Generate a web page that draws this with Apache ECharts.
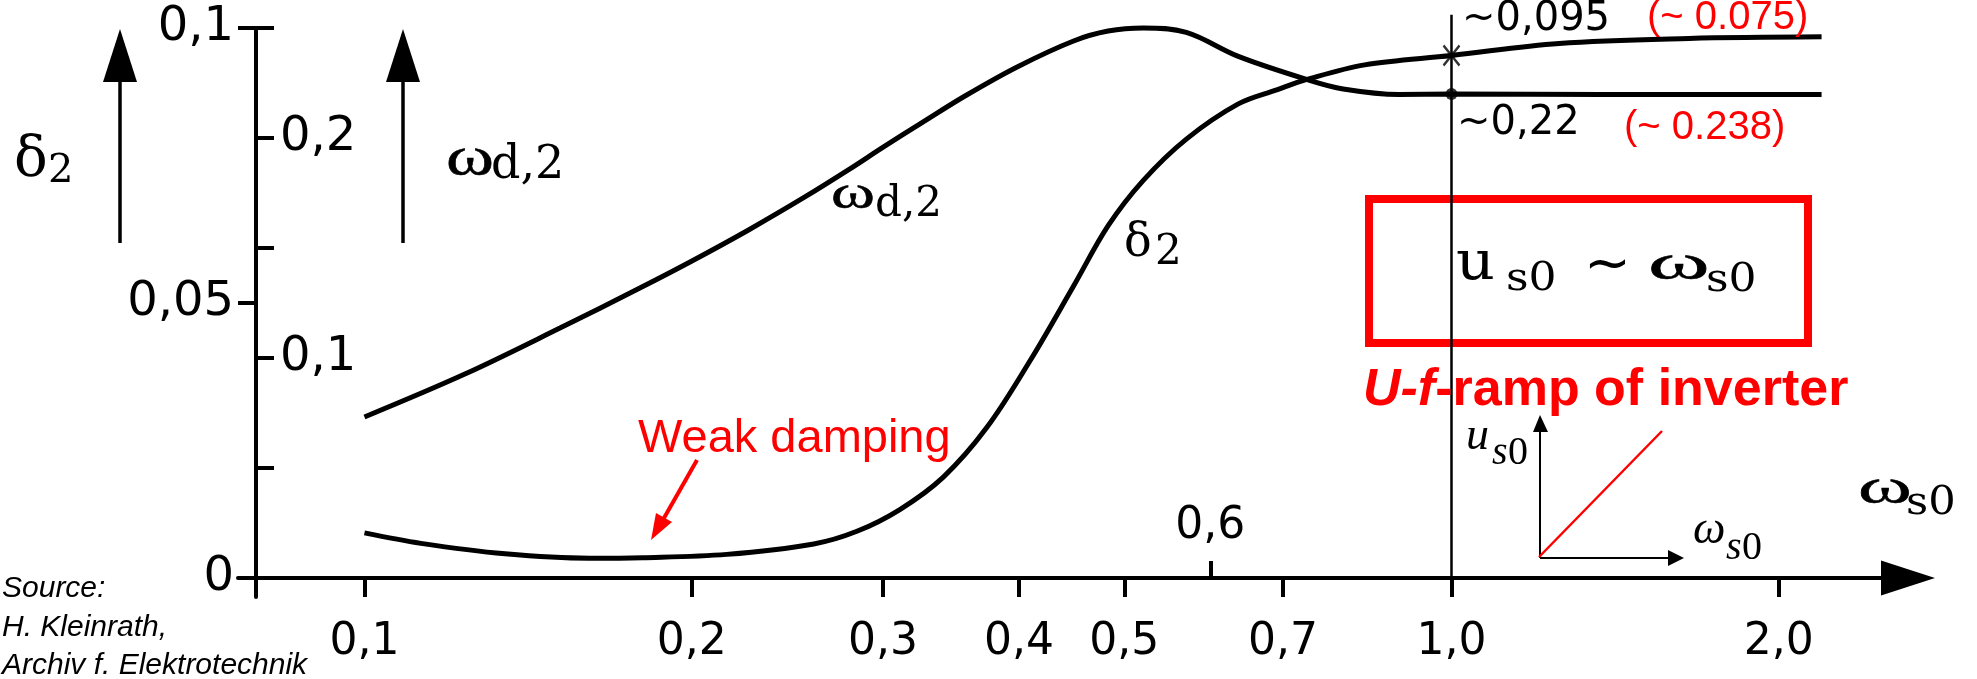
<!DOCTYPE html>
<html>
<head>
<meta charset="utf-8">
<script src="https://cdn.jsdelivr.net/npm/echarts@6/dist/echarts.min.js"></script>
<style>
  html, body { margin: 0; padding: 0; background: #ffffff; }
  #chart { width: 1977px; height: 679px; }
</style>
</head>
<body>
<div id="chart"></div>
<script>
// Damping δ2 of the second eigenvalue versus stator frequency ωs0 (p.u.)
const deltaOmega  = [0.100, 0.1127, 0.1347, 0.1609, 0.180, 0.2154, 0.259, 0.2838, 0.3111, 0.341, 0.3738, 0.4098, 0.4491, 0.4834, 0.5206, 0.5703, 0.6366, 0.6918, 0.735, 0.832, 1.0, 1.256, 1.653, 2.19];
const deltaValues = [0.0082, 0.0063, 0.0044, 0.0036, 0.0037, 0.0043, 0.0062, 0.0085, 0.0125, 0.0184, 0.0274, 0.0396, 0.0531, 0.0641, 0.0723, 0.0798, 0.0862, 0.0888, 0.0906, 0.0933, 0.095, 0.0972, 0.0981, 0.0984];

// Damped eigenfrequency ωd,2 versus stator frequency ωs0 (p.u.)
const wdOmega  = [0.100, 0.1237, 0.1513, 0.1792, 0.2001, 0.2256, 0.2542, 0.2787, 0.2998, 0.3258, 0.3568, 0.3985, 0.4491, 0.4832, 0.5206, 0.5702, 0.6366, 0.7384, 0.795, 0.895, 1.0, 1.376, 2.19];
const wdValues = [0.0732, 0.0927, 0.1136, 0.1318, 0.1441, 0.1582, 0.1732, 0.1855, 0.1957, 0.2070, 0.2191, 0.2323, 0.2441, 0.2486, 0.25, 0.248, 0.2371, 0.2264, 0.2223, 0.2198, 0.22, 0.2198, 0.2198];

// Rated operating point and the values read there
const refOmega   = 1.0;
const refDelta   = 0.095;
const refWd      = 0.22;
const altDelta   = 0.075;
const altWd      = 0.238;
const refLineTop = 0.1024;   // guide at ωs0 = 1 runs slightly above the plot

// Axis ticks
const xTicks      = [0.1, 0.2, 0.3, 0.4, 0.5, 0.7, 1.0, 2.0];
const xTicksAbove = [0.6];
const deltaTicks  = [0, 0.05, 0.1];
const wdTicks     = [0.05, 0.1, 0.15, 0.2, 0.25];
const wdLabels    = [0.1, 0.2];

// Axis extents
const xMin = 0.0765, xMax = 2.63;
const deltaMin = -0.00345, deltaMax = 0.1;
const wdMin = -0.008625, wdMax = 0.25;

const NUM_FONT = 'DejaVu Sans';
const MATH_FONT = 'DejaVu Serif';
const OMEGA_FONT = 'Liberation Serif';
const RED = '#ff0000';
const OMEGA_STYLE = { stroke: '#000', lineWidth: 0.5 };

const comma = v => String(v).replace('.', ',');
const pairs = (xs, ys) => xs.map((x, i) => [x, ys[i]]);

// Text placed by its baseline; sx stretches it horizontally from its left edge
function txt(str, x, baseline, size, family, extra, sx) {
  const style = Object.assign({
    text: str,
    fontSize: size,
    fontFamily: family,
    fill: '#000',
    align: 'left', textAlign: 'left',
    verticalAlign: 'middle', textVerticalAlign: 'middle'
  }, extra || {});
  return { type: 'text', x: x, y: baseline - 0.34 * size, scaleX: sx || 1, z: 10, style: style };
}
function seg(x1, y1, x2, y2, w, color) {
  return { type: 'line', z: 10, shape: { x1, y1, x2, y2 }, style: { stroke: color || '#000', lineWidth: w } };
}
function tri(points, color) {
  return { type: 'polygon', z: 10, shape: { points }, style: { fill: color || '#000' } };
}

const chart = echarts.init(document.getElementById('chart'), null, { renderer: 'canvas' });

const option = {
  backgroundColor: '#ffffff',
  animation: false,
  grid: { left: 238, right: 69, top: 28, bottom: 82, containLabel: false },
  xAxis: [
    {
      type: 'log', logBase: 10, min: xMin, max: xMax, position: 'bottom',
      axisLine: { show: true, onZero: true, onZeroAxisIndex: 0, symbol: ['none', 'triangle'], symbolSize: [35, 54], lineStyle: { color: '#000', width: 4 } },
      axisTick: { show: true, customValues: xTicks, length: 19, lineStyle: { color: '#000', width: 4 } },
      axisLabel: { show: true, customValues: xTicks, margin: 24, fontFamily: NUM_FONT, fontSize: 44, color: '#000',
                   formatter: v => Number(v).toFixed(1).replace('.', ',') },
      splitLine: { show: false }, minorTick: { show: false }
    },
    {
      type: 'log', logBase: 10, min: xMin, max: xMax, position: 'bottom',
      axisLine: { show: false, onZero: true, onZeroAxisIndex: 0 },
      axisTick: { show: true, inside: true, customValues: xTicksAbove, length: 17, lineStyle: { color: '#000', width: 4 } },
      axisLabel: { show: true, inside: true, customValues: xTicksAbove, margin: 48, fontFamily: NUM_FONT, fontSize: 44, color: '#000',
                   formatter: v => Number(v).toFixed(1).replace('.', ',') },
      splitLine: { show: false }
    }
  ],
  yAxis: [
    {
      type: 'value', min: deltaMin, max: deltaMax, position: 'left', offset: -18,
      axisLine: { show: true, onZero: false, lineStyle: { color: '#000', width: 4 } },
      axisTick: { show: true, customValues: deltaTicks, length: 18, lineStyle: { color: '#000', width: 4 } },
      axisLabel: { show: true, customValues: deltaTicks, margin: 22, fontFamily: NUM_FONT, fontSize: 48, color: '#000',
                   formatter: v => comma(v) },
      splitLine: { show: false }
    },
    {
      type: 'value', min: wdMin, max: wdMax, position: 'left', offset: -18,
      axisLine: { show: false, onZero: false },
      axisTick: { show: true, inside: true, customValues: wdTicks, length: 18, lineStyle: { color: '#000', width: 4 } },
      axisLabel: { show: true, inside: true, customValues: wdLabels, margin: 24, fontFamily: NUM_FONT, fontSize: 48, color: '#000',
                   formatter: v => comma(v) },
      splitLine: { show: false }
    }
  ],
  series: [
    {
      name: 'δ2', type: 'line', xAxisIndex: 0, yAxisIndex: 0, clip: false,
      data: pairs(deltaOmega, deltaValues), smooth: 0.35, symbol: 'none',
      lineStyle: { color: '#000', width: 5 }, z: 3
    },
    {
      name: 'ωd,2', type: 'line', xAxisIndex: 0, yAxisIndex: 1, clip: false,
      data: pairs(wdOmega, wdValues), smooth: 0.35, symbol: 'none',
      lineStyle: { color: '#000', width: 5 }, z: 3
    },
    {
      name: 'ωs0 = 1', type: 'line', xAxisIndex: 0, yAxisIndex: 0, clip: false,
      data: [[refOmega, 0], [refOmega, refLineTop]], symbol: 'none',
      lineStyle: { color: '#000', width: 2.5 }, z: 4
    },
    {
      name: 'δ2 at ωs0 = 1', type: 'scatter', xAxisIndex: 0, yAxisIndex: 0,
      data: [[refOmega, refDelta]], symbol: 'path://M0,0L10,12M10,0L0,12', symbolSize: [16, 20],
      itemStyle: { color: 'transparent', borderColor: '#000', borderWidth: 2.5 }, z: 5
    },
    {
      name: 'ωd,2 at ωs0 = 1', type: 'scatter', xAxisIndex: 0, yAxisIndex: 1,
      data: [[refOmega, refWd]], symbol: 'circle', symbolSize: 12,
      itemStyle: { color: '#000' }, z: 5
    }
  ]
};

const graphics = [];

// Vertical axis captions with their arrows
graphics.push(seg(120, 243, 120, 78, 3.5), tri([[120, 29], [103, 82], [137, 82]]));
graphics.push(seg(403, 243, 403, 78, 3.5), tri([[403, 29], [386, 82], [420, 82]]));
graphics.push(txt('δ', 14, 180, 56, MATH_FONT));
graphics.push(txt('2', 48, 185, 40, MATH_FONT));
graphics.push(txt('ω', 446, 178, 54, OMEGA_FONT, OMEGA_STYLE, 1.35));
graphics.push(txt('d,2', 491, 182, 46, MATH_FONT));

// Curve captions
graphics.push(txt('ω', 831, 212, 46, OMEGA_FONT, OMEGA_STYLE, 1.45));
graphics.push(txt('d,2', 875, 219, 42, MATH_FONT));
graphics.push(txt('δ', 1124, 260, 46, MATH_FONT));
graphics.push(txt('2', 1155, 267, 42, MATH_FONT));

// Weak damping note
graphics.push(txt('Weak damping', 638, 455, 47, 'Liberation Sans', { fill: RED }));
graphics.push(seg(697, 460, 664, 518, 4, RED), tri([[651, 540], [672, 522], [656, 513]], RED));

// Values at the rated point
graphics.push(txt('~' + comma(refDelta), 1462, 33, 40, NUM_FONT));
graphics.push(txt('(~ ' + altDelta + ')', 1647, 32, 40, 'Liberation Sans', { fill: RED }));
graphics.push(txt('~' + comma(refWd), 1457, 137, 40, NUM_FONT));
graphics.push(txt('(~ ' + altWd + ')', 1624, 142, 40, 'Liberation Sans', { fill: RED }));

// Proportional voltage/frequency relation
graphics.push({ type: 'rect', z: 1, shape: { x: 1369, y: 199, width: 439, height: 144 }, style: { fill: 'none', stroke: RED, lineWidth: 8 } });
graphics.push(txt('u', 1456, 283, 54, MATH_FONT, null, 1.12));
graphics.push(txt('s0', 1506, 293, 40, MATH_FONT, null, 1.1));
graphics.push(txt('~', 1584, 266 + 0.34 * 56, 56, NUM_FONT));
graphics.push(txt('ω', 1648, 283, 48, OMEGA_FONT, OMEGA_STYLE, 1.95));
graphics.push(txt('s0', 1706, 294, 40, MATH_FONT, null, 1.1));

graphics.push({
  type: 'text', x: 1363, y: 408 - 0.34 * 52, z: 10,
  style: {
    text: '{i|U-f}{n|-ramp of inverter}',
    align: 'left', textAlign: 'left', verticalAlign: 'middle', textVerticalAlign: 'middle',
    rich: {
      i: { fontStyle: 'italic', fontWeight: 'bold', fontSize: 52, fontFamily: 'Liberation Sans', fill: RED, color: RED },
      n: { fontWeight: 'bold', fontSize: 52, fontFamily: 'Liberation Sans', fill: RED, color: RED }
    }
  }
});

// Small U-f ramp sketch
graphics.push(seg(1540, 558, 1540, 430, 2), tri([[1540, 415], [1533, 432], [1548, 432]]));
graphics.push(seg(1540, 558, 1670, 558, 2), tri([[1684, 558], [1668, 550], [1668, 566]]));
graphics.push(seg(1539, 557, 1662, 431, 2.5, RED));
graphics.push(txt('u', 1466, 453, 46, 'Liberation Serif', { fontStyle: 'italic' }));
graphics.push(txt('s', 1492, 467, 40, 'Liberation Serif', { fontStyle: 'italic' }));
graphics.push(txt('0', 1508, 467, 40, 'Liberation Serif'));
graphics.push(txt('ω', 1693, 547, 46, 'Liberation Serif', { fontStyle: 'italic' }));
graphics.push(txt('s', 1726, 562, 40, 'Liberation Serif', { fontStyle: 'italic' }));
graphics.push(txt('0', 1742, 562, 40, 'Liberation Serif'));

// Horizontal axis caption
graphics.push(txt('ω', 1858, 507, 48, OMEGA_FONT, OMEGA_STYLE, 1.7));
graphics.push(txt('s0', 1906, 517, 40, MATH_FONT, null, 1.08));

// Source note
graphics.push(txt('Source:', 2, 599, 30, 'Liberation Sans', { fontStyle: 'italic' }));
graphics.push(txt('H. Kleinrath,', 2, 638, 30, 'Liberation Sans', { fontStyle: 'italic' }));
graphics.push(txt('Archiv f. Elektrotechnik', 2, 676, 30, 'Liberation Sans', { fontStyle: 'italic' }));

option.graphic = { elements: graphics };

chart.setOption(option);
</script>
</body>
</html>
